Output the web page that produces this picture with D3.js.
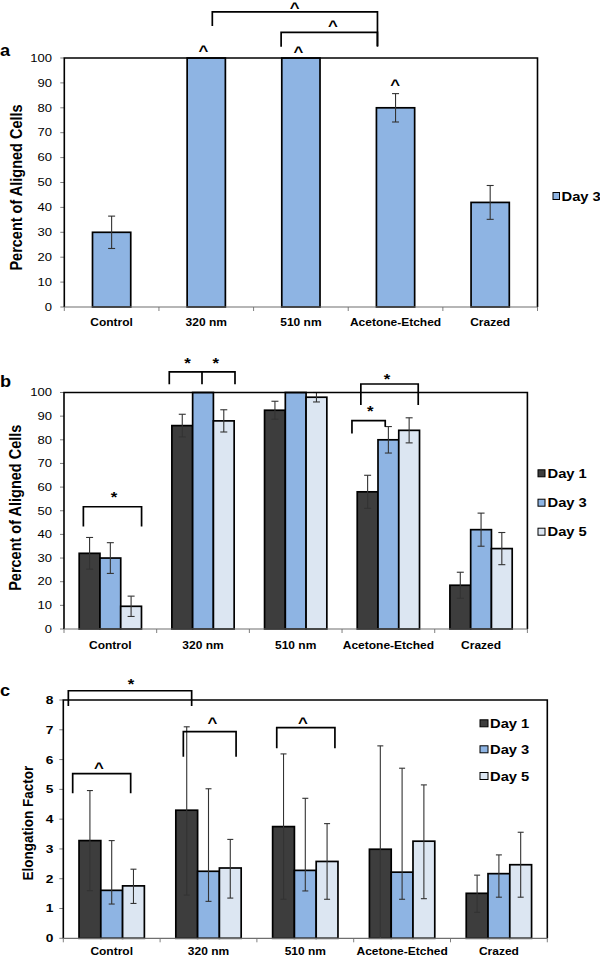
<!DOCTYPE html>
<html><head><meta charset="utf-8">
<script src="https://cdn.jsdelivr.net/npm/d3@7"></script>
<style>html,body{margin:0;padding:0;background:#fff;} svg{display:block;}</style>
</head><body>
<script>
// ---------------- DATA ----------------
const categories = ["Control", "320 nm", "510 nm", "Acetone-Etched", "Crazed"];
const dayLabels = ["Day 1", "Day 3", "Day 5"];

// Panel a : percent of aligned cells, Day 3 (mean, +/- error)
const alignA_day3 = [30, 100, 100, 80, 42];
const alignA_day3Err = [6.5, 0, 0, 5.7, 6.8];

// Panel b : percent of aligned cells (mean, +/- error)
const alignB_day1 = [32, 86, 92.5, 58, 18.5];
const alignB_day1Err = [6.7, 4.8, 3.8, 7, 5.5];
const alignB_day3 = [30, 100, 100, 80, 42];
const alignB_day3Err = [6.5, 0, 0, 5.6, 7];
const alignB_day5 = [9.6, 88, 98, 84, 34];
const alignB_day5Err = [4.3, 4.7, 2, 5.3, 6.8];

// Panel c : elongation factor (mean, upper and lower error-bar ends)
const elong_day1 = [3.28, 4.30, 3.75, 2.99, 1.51];
const elong_day1Hi = [4.96, 7.10, 6.19, 6.46, 2.12];
const elong_day1Lo = [1.60, 1.45, 1.31, 0, 0.87];
const elong_day3 = [1.61, 2.25, 2.28, 2.22, 2.17];
const elong_day3Hi = [3.28, 5.02, 4.70, 5.71, 2.80];
const elong_day3Lo = [1.15, 1.24, 1.59, 1.31, 1.38];
const elong_day5 = [1.76, 2.36, 2.58, 3.26, 2.47];
const elong_day5Hi = [2.32, 3.32, 3.85, 5.15, 3.56];
const elong_day5Lo = [1.17, 1.35, 1.31, 1.33, 1.38];

const pctTicks = [0, 10, 20, 30, 40, 50, 60, 70, 80, 90, 100];
const elongTicks = [0, 1, 2, 3, 4, 5, 6, 7, 8];

// significance annotations, in data units (category index, value)
const bracketsA = [
  {x1: 1.064, x2: 2.809, top: 118.5, legs: [112.9, 104.8]},
  {x1: 1.791, x2: 2.809, top: 110.3, legs: [104.5, 104.5]}
];
const symbolsA = [
  {s: "^", i: 1.933, v: 120.9}, {s: "^", i: 2.337, v: 113.7},
  {s: "^", i: 0.971, v: 103.6}, {s: "^", i: 1.973, v: 103.0}, {s: "^", i: 2.995, v: 90}
];
const bracketsB = [
  {x1: -0.291, x2: 0.337, top: 51.7, legs: [43.3, 43.3]},
  {x1: 0.636, x2: 1.345, mid: 0.989, top: 108.7, legs: [103.5, 103.5, 103.5]},
  {x1: 2.703, x2: 3.322, top: 103.6, legs: [94.7, 94.7]},
  {x1: 2.607, x2: 2.966, top: 88.1, legs: [82.7, 85.5]}
];
const symbolsB = [
  {s: "*", i: 0.039, v: 57.1}, {s: "*", i: 0.833, v: 113.4}, {s: "*", i: 1.138, v: 113.4},
  {s: "*", i: 2.984, v: 106.7}, {s: "*", i: 2.804, v: 93.2}
];
const bracketsC = [
  {x1: -0.448, x2: 0.826, top: 8.31, legs: [7.80, 7.80]},
  {x1: -0.403, x2: 0.196, top: 5.525, legs: [4.867, 4.867]},
  {x1: 0.740, x2: 1.285, top: 6.935, legs: [6.096, 6.096]},
  {x1: 1.705, x2: 2.306, top: 7.07, legs: [6.378, 6.378]}
];
const symbolsC = [
  {s: "*", i: 0.199, v: 8.62}, {s: "^", i: -0.131, v: 5.78},
  {s: "^", i: 1.041, v: 7.29}, {s: "^", i: 1.976, v: 7.28}
];

// ---------------- STYLE ----------------
const FONT = "'Liberation Sans', Arial, Helvetica, sans-serif";
const SX = 1.22; // horizontal stretch of the original figure's lettering
const colors = {"Day 1": "#3d3d3d", "Day 3": "#8eb4e3", "Day 5": "#dce6f2"};
const W = 600, H = 957;

const svg = d3.select("body").append("svg").attr("width", W).attr("height", H);
svg.append("rect").attr("width", W).attr("height", H).attr("fill", "#fff");

function stext(g, x, y, str, o) {
  return g.append("text")
    .attr("transform", `translate(${x},${y}) scale(${o.sx || SX},1)` + (o.rot ? " rotate(-90)" : ""))
    .attr("font-family", FONT).attr("font-size", o.size)
    .attr("font-weight", o.weight || "normal")
    .attr("text-anchor", o.anchor || "middle")
    .attr("dy", o.dy || 0)
    .attr("fill", "#000").text(str);
}

function drawPanel(c) {
  const g = svg.append("g");
  const x0 = d3.scaleBand().domain(categories).range([c.left, c.right]);
  const bw = x0.bandwidth();
  const xi = d3.scaleLinear().domain([-0.5, categories.length - 0.5]).range([c.left, c.right]);
  const y = d3.scaleLinear().domain([0, c.yMax]).range([c.bottom, c.top]);
  const gw = bw * c.groupFrac;
  const x1 = d3.scaleBand().domain(c.series.map(s => s.name)).range([(bw - gw) / 2, (bw + gw) / 2]);

  // y ticks + labels
  c.ticks.forEach(t => {
    g.append("line").attr("x1", c.left - 4).attr("x2", c.left).attr("y1", y(t)).attr("y2", y(t))
      .attr("stroke", "#7f7f7f").attr("stroke-width", 1);
    stext(g, c.tickRight, y(t) + c.tickSize * 0.36, String(t),
      {size: c.tickSize, weight: c.tickWeight, anchor: "end", sx: c.tickSX});
  });
  // x ticks at band boundaries
  const bounds = categories.map(k => x0(k)).concat([c.right]);
  bounds.forEach(b => {
    g.append("line").attr("x1", b).attr("x2", b).attr("y1", c.bottom).attr("y2", c.bottom + 4)
      .attr("stroke", "#7f7f7f").attr("stroke-width", 1);
  });
  // category labels
  categories.forEach(k => {
    stext(g, x0(k) + bw / 2, c.catY, k, {size: 10, weight: "bold", sx: 1.2});
  });

  // bars
  c.series.forEach(s => {
    const rows = categories.map((k, i) => ({k, v: s.values[i]}));
    g.selectAll(null).data(rows).join("rect")
      .attr("x", d => x0(d.k) + x1(s.name)).attr("width", x1.bandwidth())
      .attr("y", d => y(d.v)).attr("height", d => y(0) - y(d.v))
      .attr("fill", s.color).attr("stroke", "#000").attr("stroke-width", 1.7);
  });
  // error bars
  const cap = c.cap;
  c.series.forEach(s => {
    const rows = categories.map((k, i) => ({k, v: s.values[i], hi: s.hi[i], lo: s.lo[i]}))
      .filter(d => d.hi !== d.lo);
    const eg = g.append("g").attr("stroke", "#333").attr("stroke-width", 1.1);
    rows.forEach(d => {
      const cx = x0(d.k) + x1(s.name) + x1.bandwidth() / 2;
      eg.append("line").attr("x1", cx).attr("x2", cx).attr("y1", y(d.hi)).attr("y2", y(d.lo));
      eg.append("line").attr("x1", cx - cap).attr("x2", cx + cap).attr("y1", y(d.hi)).attr("y2", y(d.hi));
      if (d.lo > 0) eg.append("line").attr("x1", cx - cap).attr("x2", cx + cap).attr("y1", y(d.lo)).attr("y2", y(d.lo));
    });
  });

  // plot border
  g.append("path").attr("d", `M${c.left},${c.bottom}V${c.top}H${c.right}V${c.bottom}`)
    .attr("fill", "none").attr("stroke", "#000").attr("stroke-width", 1.6);
  g.append("line").attr("x1", c.left).attr("x2", c.right).attr("y1", c.bottom).attr("y2", c.bottom)
    .attr("stroke", "#6f6f6f").attr("stroke-width", 1.2);

  // brackets
  c.brackets.forEach(b => {
    let d = `M${xi(b.x1)},${y(b.legs[0])}V${y(b.top)}H${xi(b.x2)}V${y(b.legs[1])}`;
    if (b.mid !== undefined) d += `M${xi(b.mid)},${y(b.top)}V${y(b.legs[2])}`;
    g.append("path").attr("d", d).attr("fill", "none").attr("stroke", "#000").attr("stroke-width", 1.7);
  });
  c.symbols.forEach(m => {
    const off = m.s === "^" ? 6.8 : 7.6;
    stext(g, xi(m.i), y(m.v) + off, m.s, {size: 14, weight: "bold", sx: 1.2});
  });

  // legend
  c.legend.items.forEach((name, j) => {
    const cy = c.legend.y[j];
    g.append("rect").attr("x", c.legend.x).attr("y", cy - 3.5).attr("width", c.legend.w).attr("height", 7)
      .attr("fill", colors[name]).attr("stroke", "#000").attr("stroke-width", 1);
    stext(g, c.legend.tx, cy + 4.5, name, {size: 12.5, weight: "bold", anchor: "start", sx: 1.18});
  });

  // y title
  stext(g, c.titleX, (c.top + c.bottom) / 2 + c.titleDY, c.title,
    {size: c.titleSize, weight: "bold", rot: true, dy: "0.36em", sx: 1.1});
  // panel letter
  stext(g, 0, c.letterY, c.letter, {size: 16.5, weight: "bold", anchor: "start", sx: 1.1});
}

drawPanel({
  left: 64.3, right: 537.5, top: 58, bottom: 307, yMax: 100, ticks: pctTicks,
  tickRight: 52, tickSize: 10.5, tickWeight: "normal", tickSX: 1.24,
  groupFrac: 0.404, cap: 3.5, catY: 326.2,
  series: [{name: "Day 3", values: alignA_day3, color: colors["Day 3"],
    hi: alignA_day3.map((v, i) => v + alignA_day3Err[i]), lo: alignA_day3.map((v, i) => v - alignA_day3Err[i])}],
  brackets: bracketsA, symbols: symbolsA,
  legend: {items: ["Day 3"], x: 553, w: 6.5, tx: 561.5, y: [196]},
  title: "Percent of Aligned Cells", titleX: 16.5, titleSize: 14.5, titleDY: 5,
  letter: "a", letterY: 56
});

const seriesB = [
  [alignB_day1, alignB_day1Err], [alignB_day3, alignB_day3Err], [alignB_day5, alignB_day5Err]
].map(([vals, err], j) => ({
  name: dayLabels[j], values: vals, color: colors[dayLabels[j]],
  hi: vals.map((v, i) => v + err[i]), lo: vals.map((v, i) => v - err[i])
}));

drawPanel({
  left: 64, right: 527.4, top: 392.5, bottom: 629, yMax: 100, ticks: pctTicks,
  tickRight: 52, tickSize: 10.5, tickWeight: "normal", tickSX: 1.24,
  groupFrac: 0.672, cap: 3.5, catY: 648.6,
  series: seriesB, brackets: bracketsB, symbols: symbolsB,
  legend: {items: dayLabels, x: 538, w: 7, tx: 547.5, y: [473.3, 502.7, 531.7]},
  title: "Percent of Aligned Cells", titleX: 15.5, titleSize: 14.5, titleDY: -3,
  letter: "b", letterY: 386.5
});

const seriesC = [
  [elong_day1, elong_day1Hi, elong_day1Lo], [elong_day3, elong_day3Hi, elong_day3Lo],
  [elong_day5, elong_day5Hi, elong_day5Lo]
].map(([vals, hi, lo], j) => ({name: dayLabels[j], values: vals, hi, lo, color: colors[dayLabels[j]]}));

drawPanel({
  left: 63.3, right: 547.3, top: 700, bottom: 938.3, yMax: 8, ticks: elongTicks,
  tickRight: 53.5, tickSize: 11, tickWeight: "bold", tickSX: 1.25,
  groupFrac: 0.675, cap: 3, catY: 955.3,
  series: seriesC, brackets: bracketsC, symbols: symbolsC,
  legend: {items: dayLabels, x: 480, w: 8, tx: 490, y: [723.3, 749.3, 776]},
  title: "Elongation Factor", titleX: 27.5, titleSize: 13.5, titleDY: 4,
  letter: "c", letterY: 696
});
</script>
</body></html>
